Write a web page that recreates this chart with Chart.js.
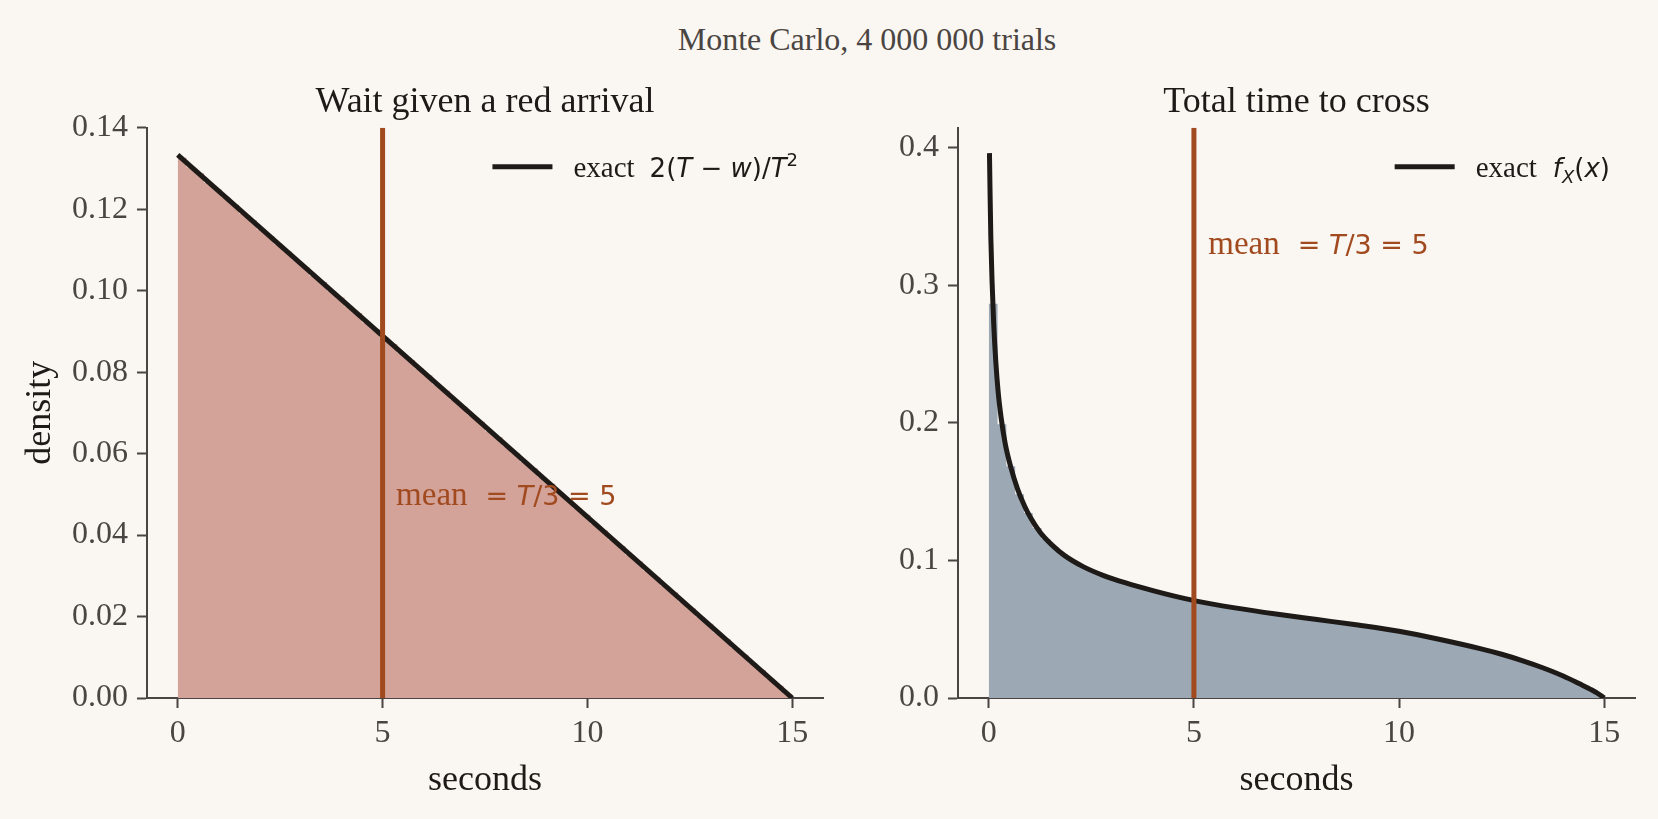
<!DOCTYPE html>
<html lang="en">
<head>
<meta charset="UTF-8">
<title>Monte Carlo, 4 000 000 trials</title>
<script src="https://cdn.jsdelivr.net/npm/chart.js"></script>
<style>
  html, body { margin: 0; padding: 0; background: #faf6f1; }
  #wrap { position: relative; width: 1658px; height: 819px; overflow: hidden; background: #faf6f1; }
  #suptitle { position: absolute; top: 23px; left: 867px; transform: translateX(-50%);
              font: 32px/32px "Liberation Serif", serif; color: #4a4542; white-space: nowrap; }
  .panel { position: absolute; top: 0; width: 829px; height: 819px; }
</style>
</head>
<body>
<div id="wrap">
  <div id="suptitle">Monte Carlo, 4 000 000 trials</div>
  <div class="panel" style="left:0"><canvas id="waitChart" width="829" height="819"></canvas></div>
  <div class="panel" style="left:829px"><canvas id="totalChart" width="829" height="819"></canvas></div>
</div>
<script>
// ---- data ----
const T = 15;
const binCount = 70;
const meanValue = 5;

// histogram: wait given a red arrival (density per bin, 70 bins over 0..15 s)
const waitHist = [
  0.1326, 0.1303, 0.1288, 0.1265, 0.1249, 0.1228, 0.1211, 0.1189, 0.1173, 0.1151,
  0.1134, 0.1113, 0.1096, 0.1075, 0.1058, 0.1036, 0.1021, 0.0999, 0.0983, 0.0961,
  0.0945, 0.0922, 0.0906, 0.0885, 0.0869, 0.0847, 0.0830, 0.0809, 0.0792, 0.0770,
  0.0754, 0.0732, 0.0715, 0.0694, 0.0678, 0.0655, 0.0640, 0.0618, 0.0601, 0.0580,
  0.0564, 0.0542, 0.0526, 0.0504, 0.0487, 0.0466, 0.0450, 0.0428, 0.0411, 0.0389,
  0.0373, 0.0351, 0.0335, 0.0313, 0.0296, 0.0275, 0.0259, 0.0237, 0.0220, 0.0199,
  0.0182, 0.0161, 0.0144, 0.0123, 0.0106, 0.0085, 0.0068, 0.0047, 0.0030, 0.0010
];
// exact curve 2(T-w)/T^2
const waitCurveX = [0, 15];
const waitCurveY = [0.1333, 0];

// histogram: total time to cross
const crossHist = [
  0.2866, 0.1990, 0.1685, 0.1480, 0.1345, 0.1235, 0.1155, 0.1095, 0.1042, 0.0998,
  0.0962, 0.0932, 0.0905, 0.0881, 0.0859, 0.0838, 0.0820, 0.0802, 0.0783, 0.0768,
  0.0750, 0.0736, 0.0721, 0.0706, 0.0693, 0.0681, 0.0670, 0.0660, 0.0650, 0.0640,
  0.0631, 0.0623, 0.0613, 0.0604, 0.0596, 0.0587, 0.0578, 0.0569, 0.0560, 0.0552,
  0.0543, 0.0534, 0.0525, 0.0516, 0.0506, 0.0496, 0.0486, 0.0475, 0.0463, 0.0451,
  0.0438, 0.0424, 0.0410, 0.0395, 0.0380, 0.0364, 0.0348, 0.0331, 0.0314, 0.0296,
  0.0276, 0.0255, 0.0233, 0.0209, 0.0183, 0.0155, 0.0125, 0.0092, 0.0058, 0.0020
];
// exact curve f_X(x)
const crossCurveX = [0.017, 0.03, 0.05, 0.08, 0.12, 0.17, 0.23, 0.30, 0.40, 0.53,
  0.70, 0.88, 1.02, 1.25, 1.53, 1.85, 2.3, 2.8, 3.34, 4.0, 4.5, 5.0, 6.0, 7.0, 8.0,
  9.0, 10.0, 11.0, 12.0, 12.5, 13.0, 13.5, 14.0, 14.4, 14.7, 14.9, 15.0];
const crossCurveY = [0.396, 0.370, 0.335, 0.303, 0.272, 0.245, 0.222, 0.204, 0.185, 0.1685,
  0.152, 0.139, 0.131, 0.1205, 0.1115, 0.1035, 0.0955, 0.0890, 0.0836, 0.0780, 0.0742, 0.0708, 0.0655, 0.0610, 0.0570,
  0.0530, 0.0485, 0.0425, 0.0357, 0.0318, 0.0272, 0.0220, 0.0160, 0.0103, 0.0058, 0.0022, 0.0];

// ticks
const xTicks = [0, 5, 10, 15];
const waitYTicks = [0, 0.02, 0.04, 0.06, 0.08, 0.10, 0.12, 0.14];
const crossYTicks = [0, 0.1, 0.2, 0.3, 0.4];

// ---- styling ----
const SERIF = '"Liberation Serif", "Times New Roman", serif';
const MATH = '"DejaVu Sans", sans-serif';
const INK = '#1d1a18';
const AXIS = '#4a4542';
const MEAN_COLOR = '#a24a1f';

function histPoints(values) {
  const w = T / binCount;
  const pts = values.map((v, i) => ({ x: i * w, y: v }));
  pts.push({ x: T, y: values[values.length - 1] });
  return pts;
}

function zipPoints(xs, ys) {
  return xs.map((x, i) => ({ x: x, y: ys[i] }));
}

function runsWidth(ctx, runs) {
  let w = 0;
  for (const r of runs) {
    if (r.gap) { w += r.gap; continue; }
    ctx.font = r.font;
    w += ctx.measureText(r.text).width;
  }
  return w;
}

function drawRuns(ctx, runs, x, y, color) {
  ctx.textAlign = 'left';
  ctx.textBaseline = 'alphabetic';
  for (const r of runs) {
    if (r.gap) { x += r.gap; continue; }
    ctx.font = r.font;
    ctx.fillStyle = color;
    ctx.fillText(r.text, x, y + (r.dy || 0));
    x += ctx.measureText(r.text).width;
  }
}

// legend + mean annotation with mixed fonts
function textPlugin(legendRuns, meanAt) {
  const meanRuns = [
    { text: 'mean', font: '33px ' + SERIF },
    { gap: 18 },
    { text: '= ', font: '27px ' + MATH },
    { text: 'T', font: 'italic 27px ' + MATH },
    { text: '/3 = 5', font: '27px ' + MATH }
  ];
  return {
    id: 'panelText',
    afterDatasetsDraw(chart) {
      const { ctx, chartArea: area, scales } = chart;
      ctx.save();
      drawRuns(ctx, meanRuns, scales.x.getPixelForValue(meanAt[0]),
               scales.y.getPixelForValue(meanAt[1]), MEAN_COLOR);
      const textW = runsWidth(ctx, legendRuns);
      const textX = area.right - 25 - textW;
      const lineX = textX - 21 - 60;
      ctx.strokeStyle = INK;
      ctx.lineWidth = 5;
      ctx.beginPath();
      ctx.moveTo(lineX, area.top + 39);
      ctx.lineTo(lineX + 60, area.top + 39);
      ctx.stroke();
      drawRuns(ctx, legendRuns, textX, area.top + 49, INK);
      ctx.restore();
    }
  };
}

function makePanel(canvasId, opt) {
  const ctx = document.getElementById(canvasId).getContext('2d');
  return new Chart(ctx, {
    type: 'line',
    data: {
      datasets: [
        {
          label: 'mean',
          data: [{ x: meanValue, y: 0 }, { x: meanValue, y: opt.yMax }],
          borderColor: MEAN_COLOR,
          borderWidth: 5,
          pointRadius: 0,
          order: 0
        },
        {
          label: 'exact',
          data: opt.curve,
          borderColor: INK,
          borderWidth: 5,
          pointRadius: 0,
          cubicInterpolationMode: 'monotone',
          order: 1
        },
        {
          label: 'simulated',
          data: histPoints(opt.hist),
          stepped: true,
          borderWidth: 0,
          borderColor: 'rgba(0,0,0,0)',
          backgroundColor: opt.fill,
          fill: 'origin',
          pointRadius: 0,
          order: 2
        }
      ]
    },
    options: {
      responsive: false,
      animation: false,
      events: [],
      layout: { padding: { left: 0, right: opt.padRight, top: 81, bottom: 0 } },
      plugins: {
        legend: { display: false },
        tooltip: { enabled: false },
        title: {
          display: true,
          text: opt.title,
          fullSize: false,
          color: INK,
          font: { family: SERIF, size: 36, weight: 'normal' },
          padding: { top: 0, bottom: 3.5 }
        }
      },
      scales: {
        x: {
          type: 'linear',
          min: -0.75,
          max: 15.75,
          afterBuildTicks: s => { s.ticks = xTicks.map(v => ({ value: v })); },
          afterFit: s => { s.height = 121; },
          grid: { display: true, drawOnChartArea: false, drawTicks: true, tickLength: 10, tickWidth: 2, tickColor: AXIS },
          border: { display: true, color: AXIS, width: 2 },
          ticks: {
            autoSkip: false, maxRotation: 0, padding: 6, color: AXIS,
            font: { family: SERIF, size: 32 },
            callback: v => String(v)
          },
          title: {
            display: true, text: 'seconds', color: INK,
            font: { family: SERIF, size: 36 },
            padding: { top: 0, bottom: 17 }
          }
        },
        y: {
          type: 'linear',
          min: 0,
          max: opt.yMax,
          afterBuildTicks: s => { s.ticks = opt.yTicks.map(v => ({ value: v })); },
          afterFit: s => { s.width = opt.yWidth; },
          grid: { display: true, drawOnChartArea: false, drawTicks: true, tickLength: 10, tickWidth: 2, tickColor: AXIS },
          border: { display: true, color: AXIS, width: 2 },
          ticks: {
            autoSkip: false, padding: 9, color: AXIS,
            font: { family: SERIF, size: 32 },
            callback: v => Number(v).toFixed(opt.decimals)
          },
          title: {
            display: !!opt.yTitle, text: opt.yTitle || '', color: INK,
            font: { family: SERIF, size: 36 },
            padding: { top: 19, bottom: 0 }
          }
        }
      }
    },
    plugins: [textPlugin(opt.legendRuns, opt.meanAt)]
  });
}

makePanel('waitChart', {
  title: 'Wait given a red arrival',
  hist: waitHist,
  curve: zipPoints(waitCurveX, waitCurveY),
  fill: '#d3a298',
  yMax: 0.14,
  yTicks: waitYTicks,
  decimals: 2,
  yWidth: 147,
  yTitle: 'density',
  padRight: 6,
  meanAt: [5.33, 0.0475],
  legendRuns: [
    { text: 'exact', font: '29px ' + SERIF },
    { gap: 15 },
    { text: '2(', font: '26px ' + MATH },
    { text: 'T', font: 'italic 26px ' + MATH },
    { text: ' \u2212 ', font: '26px ' + MATH },
    { text: 'w', font: 'italic 26px ' + MATH },
    { text: ')/', font: '26px ' + MATH },
    { text: 'T', font: 'italic 26px ' + MATH },
    { text: '2', font: '18px ' + MATH, dy: -11 }
  ]
});

makePanel('totalChart', {
  title: 'Total time to cross',
  hist: crossHist,
  curve: zipPoints(crossCurveX, crossCurveY),
  fill: '#9ca8b4',
  yMax: 0.4145,
  yTicks: crossYTicks,
  decimals: 1,
  yWidth: 129,
  yTitle: '',
  padRight: 23,
  meanAt: [5.35, 0.3225],
  legendRuns: [
    { text: 'exact', font: '29px ' + SERIF },
    { gap: 16 },
    { text: 'f', font: 'italic 26px ' + MATH },
    { text: 'X', font: 'italic 18px ' + MATH, dy: 6 },
    { text: '(', font: '26px ' + MATH },
    { text: 'x', font: 'italic 26px ' + MATH },
    { text: ')', font: '26px ' + MATH }
  ]
});
</script>
</body>
</html>
